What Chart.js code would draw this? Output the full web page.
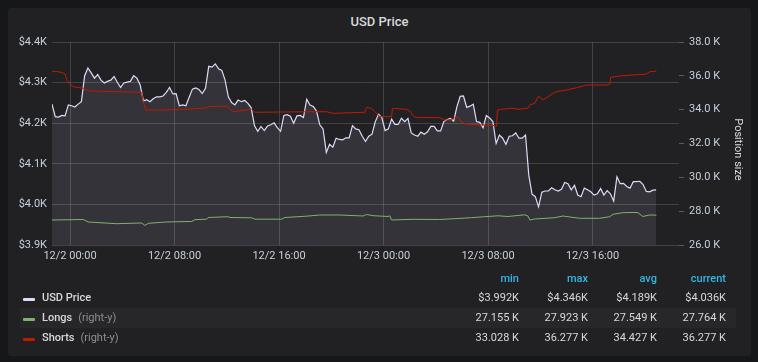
<!DOCTYPE html>
<html>
<head>
<meta charset="utf-8">
<script src="https://cdn.jsdelivr.net/npm/chart.js"></script>
<style>
  body { margin: 0; background: #161719; width: 758px; height: 362px; overflow: hidden; font-family: Roboto, sans-serif; }
  .panel { position: absolute; left: 8px; top: 8px; width: 743px; height: 348px; background: #212124; border-radius: 3px; }
  .title { position: absolute; left: 8px; top: 14px; width: 743px; text-align: center; font-size: 13px; font-weight: 500; color: #d8d9da; line-height: 16px; }
  #chart { position: absolute; left: 8px; top: 30px; }
  .cell { position: absolute; font-size: 11px; line-height: 20px; height: 20px; color: #d8d9da; white-space: nowrap; }
  .num { text-align: right; width: 70px; }
  .head { color: #33b5e5; font-weight: 500; }
  .band { position: absolute; left: 20px; width: 716px; height: 20px; background: #27272a; }
  .swatch { position: absolute; width: 12px; height: 3px; border-radius: 1px; }
  .name { font-weight: 500; }
  .axis { color: #8e8e8e; font-weight: 400; margin-left: 6px; }
</style>
</head>
<body>
<div class="panel"></div>
<div class="title">USD Price</div>
<canvas id="chart" width="743" height="242"></canvas>
<div id="legend"></div>
<script>
// time axis: hours from 12/2 00:00
const tickHours = [0, 8, 16, 24, 32, 40];
const tickLabels = ['12/2 00:00', '12/2 08:00', '12/2 16:00', '12/3 00:00', '12/3 08:00', '12/3 16:00'];
const xMin = -1.38;
const xMax = 46.62;

// USD price, one sample every 15 minutes
const priceStart = -1.38;
const priceStep = 0.25;
const priceValues = [
  4247, 4216, 4215, 4219, 4218, 4245, 4243, 4240, 4247, 4253,
  4317, 4336, 4324, 4311, 4320, 4306, 4299, 4303, 4306, 4315,
  4301, 4288, 4299, 4301, 4303, 4317, 4311, 4294, 4255, 4258,
  4253, 4260, 4265, 4265, 4267, 4276, 4288, 4272, 4273, 4243,
  4245, 4243, 4264, 4284, 4287, 4283, 4273, 4286, 4340, 4338,
  4346, 4334, 4330, 4306, 4265, 4251, 4245, 4257, 4253, 4256,
  4249, 4238, 4194, 4180, 4192, 4182, 4193, 4196, 4201, 4189,
  4180, 4219, 4221, 4217, 4200, 4218, 4219, 4214, 4259, 4245,
  4241, 4230, 4196, 4186, 4128, 4148, 4141, 4163, 4160, 4159,
  4164, 4164, 4194, 4186, 4184, 4168, 4155, 4168, 4173, 4204,
  4222, 4214, 4182, 4186, 4210, 4197, 4197, 4212, 4204, 4212,
  4176, 4171, 4168, 4178, 4173, 4179, 4192, 4192, 4181, 4181,
  4204, 4209, 4212, 4205, 4241, 4266, 4267, 4239, 4242, 4247,
  4204, 4202, 4189, 4219, 4213, 4204, 4150, 4171, 4163, 4148,
  4168, 4169, 4176, 4163, 4163, 4171, 4072, 4025, 4019, 3994,
  4030, 4033, 4033, 4041, 4036, 4033, 4037, 4054, 4051, 4036,
  4047, 4023, 4019, 4040, 4036, 4031, 4023, 4026, 4039, 4023,
  4034, 4026, 4008, 4068, 4051, 4052, 4044, 4040, 4056, 4056,
  4057, 4049, 4032, 4031, 4035, 4036
];

// Longs (right-y)
const longsHours = [-1.38, 1.02, 1.40, 3.57, 5.49, 5.74, 5.99, 7.40, 8.42, 9.31, 9.56, 10.46, 10.58, 12.11, 12.24, 13.90, 14.15, 16.20, 16.45, 17.98, 19.13, 20.66, 22.44, 22.70, 23.21, 24.35, 24.48, 24.61, 26.27, 28.31, 29.71, 30.73, 31.75, 32.77, 33.53, 34.81, 35.07, 35.20, 35.58, 37.11, 37.74, 38.26, 39.02, 40.55, 41.32, 41.57, 42.33, 43.10, 43.48, 43.84, 44.38, 44.89];
const longsValues = [27478, 27508, 27360, 27259, 27301, 27155, 27283, 27360, 27378, 27390, 27496, 27526, 27626, 27673, 27626, 27608, 27526, 27526, 27626, 27697, 27774, 27774, 27715, 27803, 27732, 27685, 27727, 27478, 27520, 27508, 27567, 27614, 27673, 27727, 27685, 27786, 27703, 27478, 27537, 27614, 27715, 27656, 27579, 27579, 27673, 27815, 27910, 27923, 27915, 27685, 27774, 27764];

// Shorts (right-y)
const shortsHours = [-1.38, -1.02, -0.61, -0.38, -0.25, 0.0, 0.25, 1.02, 1.40, 3.57, 5.49, 5.61, 5.81, 7.14, 9.31, 10.46, 10.58, 11.99, 12.24, 12.49, 12.88, 13.90, 14.15, 18.62, 19.64, 20.15, 22.57, 22.70, 23.08, 23.34, 23.72, 24.61, 24.69, 25.76, 26.01, 26.27, 26.40, 28.31, 28.69, 29.07, 29.46, 29.71, 29.97, 30.22, 32.52, 32.65, 32.72, 33.03, 33.79, 34.30, 35.07, 35.20, 35.58, 35.83, 35.96, 36.21, 36.60, 36.98, 37.24, 38.00, 38.77, 39.53, 41.19, 41.32, 41.39, 42.08, 43.10, 44.12, 44.38, 44.89];
const shortsValues = [36244, 36256, 36197, 36108, 35754, 35488, 35358, 35263, 35115, 35062, 35027, 34453, 33980, 33980, 34040, 34116, 34176, 34217, 34040, 33880, 33921, 34022, 33845, 33880, 33880, 33785, 33845, 34140, 34081, 33880, 33584, 33584, 34081, 34022, 33921, 33626, 33549, 33525, 33389, 33389, 33525, 33549, 33289, 33153, 33053, 33028, 33981, 34022, 34081, 34022, 34099, 34276, 34377, 34767, 34767, 34572, 34767, 34968, 35062, 35163, 35293, 35458, 35458, 35500, 35913, 35990, 36049, 36108, 36244, 36277];

// legend table
const seriesNames = ['USD Price', 'Longs', 'Shorts'];
const seriesAxis = ['', '(right-y)', '(right-y)'];
const seriesColors = ['#DEDAF7', '#7EB26D', '#BF1B00'];
const statNames = ['min', 'max', 'avg', 'current'];
const statValues = [
  ['$3.992K', '$4.346K', '$4.189K', '$4.036K'],
  ['27.155 K', '27.923 K', '27.549 K', '27.764 K'],
  ['33.028 K', '36.277 K', '34.427 K', '36.277 K']
];

const gridColor = 'rgba(255,255,255,0.15)';
const tickColor = '#c7d0d9';

Chart.defaults.font.family = 'Roboto';
Chart.defaults.font.size = 11;

function pairs(xs, ys) {
  return ys.map((v, i) => ({ x: xs[i], y: v }));
}

const priceHours = priceValues.map((v, i) => priceStart + i * priceStep);

// right axis title, placed where grafana puts it
const rightTitle = {
  id: 'rightTitle',
  afterDraw(chart) {
    const ctx = chart.ctx;
    const area = chart.chartArea;
    ctx.save();
    ctx.translate(730, (area.top + area.bottom) / 2 + 6);
    ctx.rotate(Math.PI / 2);
    ctx.fillStyle = '#d8d9da';
    ctx.font = '11px Roboto';
    ctx.textAlign = 'center';
    ctx.textBaseline = 'middle';
    ctx.fillText('Position size', 0, 0);
    ctx.restore();
  }
};

new Chart(document.getElementById('chart'), {
  type: 'line',
  data: {
    datasets: [{
      label: 'USD Price',
      data: pairs(priceHours, priceValues),
      yAxisID: 'y',
      borderColor: '#DEDAF7',
      backgroundColor: 'rgba(222,218,247,0.1)',
      borderWidth: 1.2,
      fill: 'start',
      pointRadius: 0,
      order: 3
    }, {
      label: 'Longs',
      data: pairs(longsHours, longsValues),
      yAxisID: 'y1',
      borderColor: '#7EB26D',
      borderWidth: 1,
      fill: false,
      pointRadius: 0,
      order: 2
    }, {
      label: 'Shorts',
      data: pairs(shortsHours, shortsValues),
      yAxisID: 'y1',
      borderColor: '#BF1B00',
      borderWidth: 1,
      fill: false,
      pointRadius: 0,
      order: 1
    }]
  },
  options: {
    responsive: false,
    animation: false,
    devicePixelRatio: 1,
    layout: { padding: { top: 12, left: 0, right: 0, bottom: 0 } },
    plugins: { legend: { display: false }, tooltip: { enabled: false } },
    scales: {
      x: {
        type: 'linear',
        min: xMin,
        max: xMax,
        afterBuildTicks: (scale) => { scale.ticks = tickHours.map(v => ({ value: v })); },
        afterFit: (scale) => { scale.height = 27; },
        grid: { color: gridColor, drawTicks: false },
        border: { display: false },
        ticks: {
          color: tickColor,
          padding: 5,
          maxRotation: 0,
          autoSkip: false,
          callback: (v) => tickLabels[tickHours.indexOf(v)]
        }
      },
      y: {
        position: 'left',
        min: 3900,
        max: 4400,
        afterFit: (scale) => { scale.width = 44; },
        grid: { color: gridColor, drawTicks: false },
        border: { display: false },
        ticks: {
          color: tickColor,
          padding: 5,
          stepSize: 100,
          callback: (v) => '$' + (v / 1000).toFixed(1) + 'K'
        }
      },
      y1: {
        position: 'right',
        min: 26000,
        max: 38000,
        afterFit: (scale) => { scale.width = 72; },
        grid: { drawOnChartArea: false, drawTicks: true, tickLength: 5, tickColor: '#5c5c60' },
        border: { display: false },
        ticks: {
          color: tickColor,
          padding: 5,
          stepSize: 2000,
          callback: (v) => (v / 1000).toFixed(1) + ' K'
        }
      }
    }
  },
  plugins: [rightTitle]
});

// legend table below the graph
const legend = document.getElementById('legend');
const colRight = [519, 588, 657, 726];
const headTop = 269;
const rowTops = [288, 308, 328];
let html = '<div class="band" style="top:' + rowTops[1] + 'px"></div>';
statNames.forEach((s, c) => {
  html += '<div class="cell num head" style="left:' + (colRight[c] - 70) + 'px;top:' + headTop + 'px">' + s + '</div>';
});
seriesNames.forEach((name, r) => {
  const top = rowTops[r];
  html += '<div class="swatch" style="left:23px;top:' + (top + 10) + 'px;background:' + seriesColors[r] + '"></div>';
  html += '<div class="cell" style="left:42px;top:' + top + 'px"><span class="name">' + name + '</span>' +
    (seriesAxis[r] ? '<span class="axis">' + seriesAxis[r] + '</span>' : '') + '</div>';
  statValues[r].forEach((v, c) => {
    html += '<div class="cell num" style="left:' + (colRight[c] - 70) + 'px;top:' + top + 'px">' + v + '</div>';
  });
});
legend.innerHTML = html;
</script>
</body>
</html>
